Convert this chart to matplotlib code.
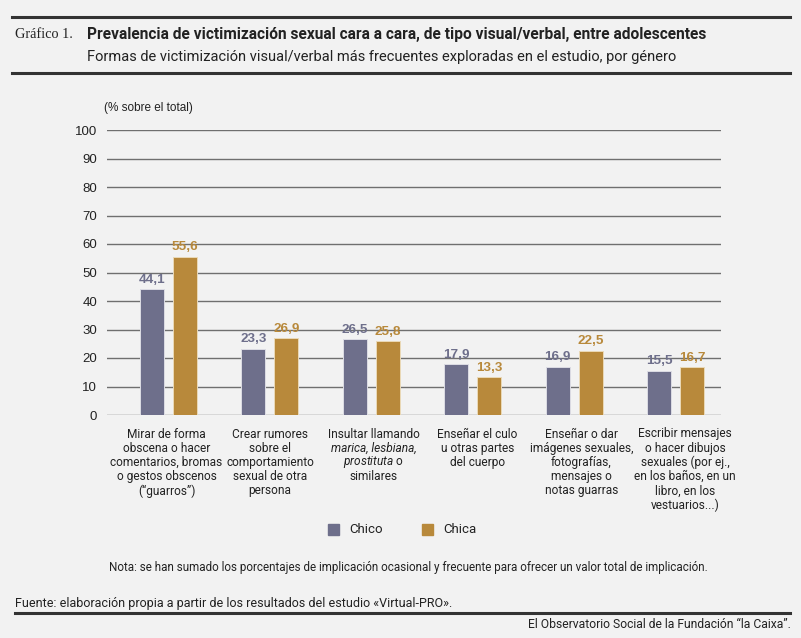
import matplotlib
matplotlib.use("Agg")
import matplotlib.pyplot as plt
from matplotlib.lines import Line2D
from matplotlib.patches import Rectangle
import numpy as np

categories = [
    "Mirar de forma\nobscena o hacer\ncomentarios, bromas\no gestos obscenos\n(\u201cguarros\u201d)",
    "Crear rumores\nsobre el\ncomportamiento\nsexual de otra\npersona",
    "Insultar llamando\n$\\it{marica,\\ lesbiana,}$\n$\\it{prostituta}$ o\nsimilares",
    "Ense\u00f1ar el culo\nu otras partes\ndel cuerpo",
    "Ense\u00f1ar o dar\nim\u00e1genes sexuales,\nfotograf\u00edas,\nmensajes o\nnotas guarras",
    "Escribir mensajes\no hacer dibujos\nsexuales (por ej.,\nen los ba\u00f1os, en un\nlibro, en los\nvestuarios...)",
]
chico = [44.1, 23.3, 26.5, 17.9, 16.9, 15.5]
chica = [55.6, 26.9, 25.8, 13.3, 22.5, 16.7]
series_names = ["Chico", "Chica"]
yticks = [0, 10, 20, 30, 40, 50, 60, 70, 80, 90, 100]

C_CHICO = "#6e6f8b"
C_CHICA = "#b8893b"
BG = "#f2f2f2"
DARK = "#333333"
TXT = "#222222"

plt.rcParams["mathtext.fontset"] = "custom"
plt.rcParams["mathtext.rm"] = "Roboto"
plt.rcParams["mathtext.it"] = "Roboto:italic"

W, H = 801, 638
fig = plt.figure(figsize=(W / 100, H / 100), dpi=100, facecolor=BG)

def fx(px):
    return px / W

def fy(py):
    return 1 - py / H

# axes: x pixels 107..721, y pixels 130 (100) .. 415 (0)
ax = fig.add_axes([fx(107), fy(415), (721 - 107) / W, (415 - 130) / H])
ax.set_facecolor(BG)
x = np.arange(len(categories))
bw = 0.237
off = 0.163
ax.bar(x - off, chico, bw, color=C_CHICO, edgecolor="#dcdce4", linewidth=0.7, zorder=3)
ax.bar(x + off, chica, bw, color=C_CHICA, edgecolor="#ead9b8", linewidth=0.7, zorder=3)
for xi, v in zip(x, chico):
    ax.text(xi - off, v + 1.2, f"{v:.1f}".replace(".", ","), ha="center", va="bottom",
            fontsize=9.7, fontweight="bold", color=C_CHICO, family="Liberation Sans", zorder=4)
for xi, v in zip(x, chica):
    ax.text(xi + off, v + 1.2, f"{v:.1f}".replace(".", ","), ha="center", va="bottom",
            fontsize=9.7, fontweight="bold", color=C_CHICA, family="Liberation Sans", zorder=4)

ax.set_xlim(-0.607, 5.449)
ax.set_ylim(0, 100)
ax.set_yticks(yticks)
ax.set_yticklabels([str(t) for t in yticks], family="Liberation Sans", fontsize=9.5, color=TXT)
ax.yaxis.grid(True, color="#6f6f6f", linewidth=1.0, zorder=1)
ax.set_axisbelow(True)
for s in ax.spines.values():
    s.set_visible(False)
ax.tick_params(axis="y", length=0, pad=7)
ax.set_xticks([])

# category labels, line by line (label centres spread slightly wider than bar groups)
PX = 0.72  # points per pixel
unit_px = 101.4
for i, lab in enumerate(categories):
    xc = (i * 103.7 - 2.0) / unit_px
    for j, line in enumerate(lab.split("\n")):
        style = "normal"
        if line.startswith("$\\it{") and line.endswith("}$"):
            line = line[5:-2].replace("\\ ", " ")
            style = "italic"
        ax.annotate(line, xy=(xc, 0), xycoords=("data", "axes fraction"),
                    xytext=(0, -(19 + j * 14.2) * PX), textcoords="offset points",
                    ha="center", va="center", family="Roboto", fontsize=8.6, color=TXT,
                    fontstyle=style, annotation_clip=False)

fig.text(fx(104), fy(108), "(% sobre el total)", family="Liberation Sans", fontsize=8.5,
         color=TXT, ha="left", va="center")

# legend
fig.patches.append(Rectangle((fx(328), fy(535)), 11 / W, 11 / H, transform=fig.transFigure,
                             color=C_CHICO, figure=fig))
fig.text(fx(349), fy(529.5), series_names[0], family="Roboto", fontsize=9.5, color=TXT, va="center")
fig.patches.append(Rectangle((fx(422), fy(535)), 11 / W, 11 / H, transform=fig.transFigure,
                             color=C_CHICA, figure=fig))
fig.text(fx(443), fy(529.5), series_names[1], family="Roboto", fontsize=9.5, color=TXT, va="center")

# horizontal rules
for yy, x0 in [(17, 12), (73, 12), (613, 15)]:
    fig.add_artist(Line2D([fx(x0), fx(790)], [fy(yy), fy(yy)], color=DARK, linewidth=2.2))

renderer = fig.canvas.get_renderer()

def fit(t, target_px):
    ext = t.get_window_extent(renderer=renderer)
    t.set_fontsize(t.get_fontsize() * target_px / ext.width)

t0 = fig.text(fx(15), fy(34), "Gr\u00e1fico 1.", family="Liberation Serif", fontsize=10.5,
              color=TXT, ha="left", va="center")
fit(t0, 58)
t1 = fig.text(fx(87), fy(34), "Prevalencia de victimizaci\u00f3n sexual cara a cara, de tipo visual/verbal, entre adolescentes",
              family="Roboto", fontweight="bold", fontsize=10, color=TXT, ha="left", va="center")
fit(t1, 623)
t2 = fig.text(fx(87), fy(57), "Formas de victimizaci\u00f3n visual/verbal m\u00e1s frecuentes exploradas en el estudio, por g\u00e9nero",
              family="Roboto", fontsize=10, color=TXT, ha="left", va="center")
fit(t2, 588)
t3 = fig.text(fx(408), fy(567), "Nota: se han sumado los porcentajes de implicaci\u00f3n ocasional y frecuente para ofrecer un valor total de implicaci\u00f3n.",
              family="Roboto", fontsize=9, color=TXT, ha="center", va="center")
fit(t3, 604)
t4 = fig.text(fx(15), fy(603), "Fuente: elaboraci\u00f3n propia a partir de los resultados del estudio \u00abVirtual-PRO\u00bb.",
              family="Roboto", fontsize=9, color=TXT, ha="left", va="center")
fit(t4, 436)
t5 = fig.text(fx(791), fy(625), "El Observatorio Social de la Fundaci\u00f3n \u201cla Caixa\u201d.",
              family="Roboto", fontsize=9, color=TXT, ha="right", va="center")
fit(t5, 265)

fig.savefig("out.png", dpi=100, facecolor=BG)
